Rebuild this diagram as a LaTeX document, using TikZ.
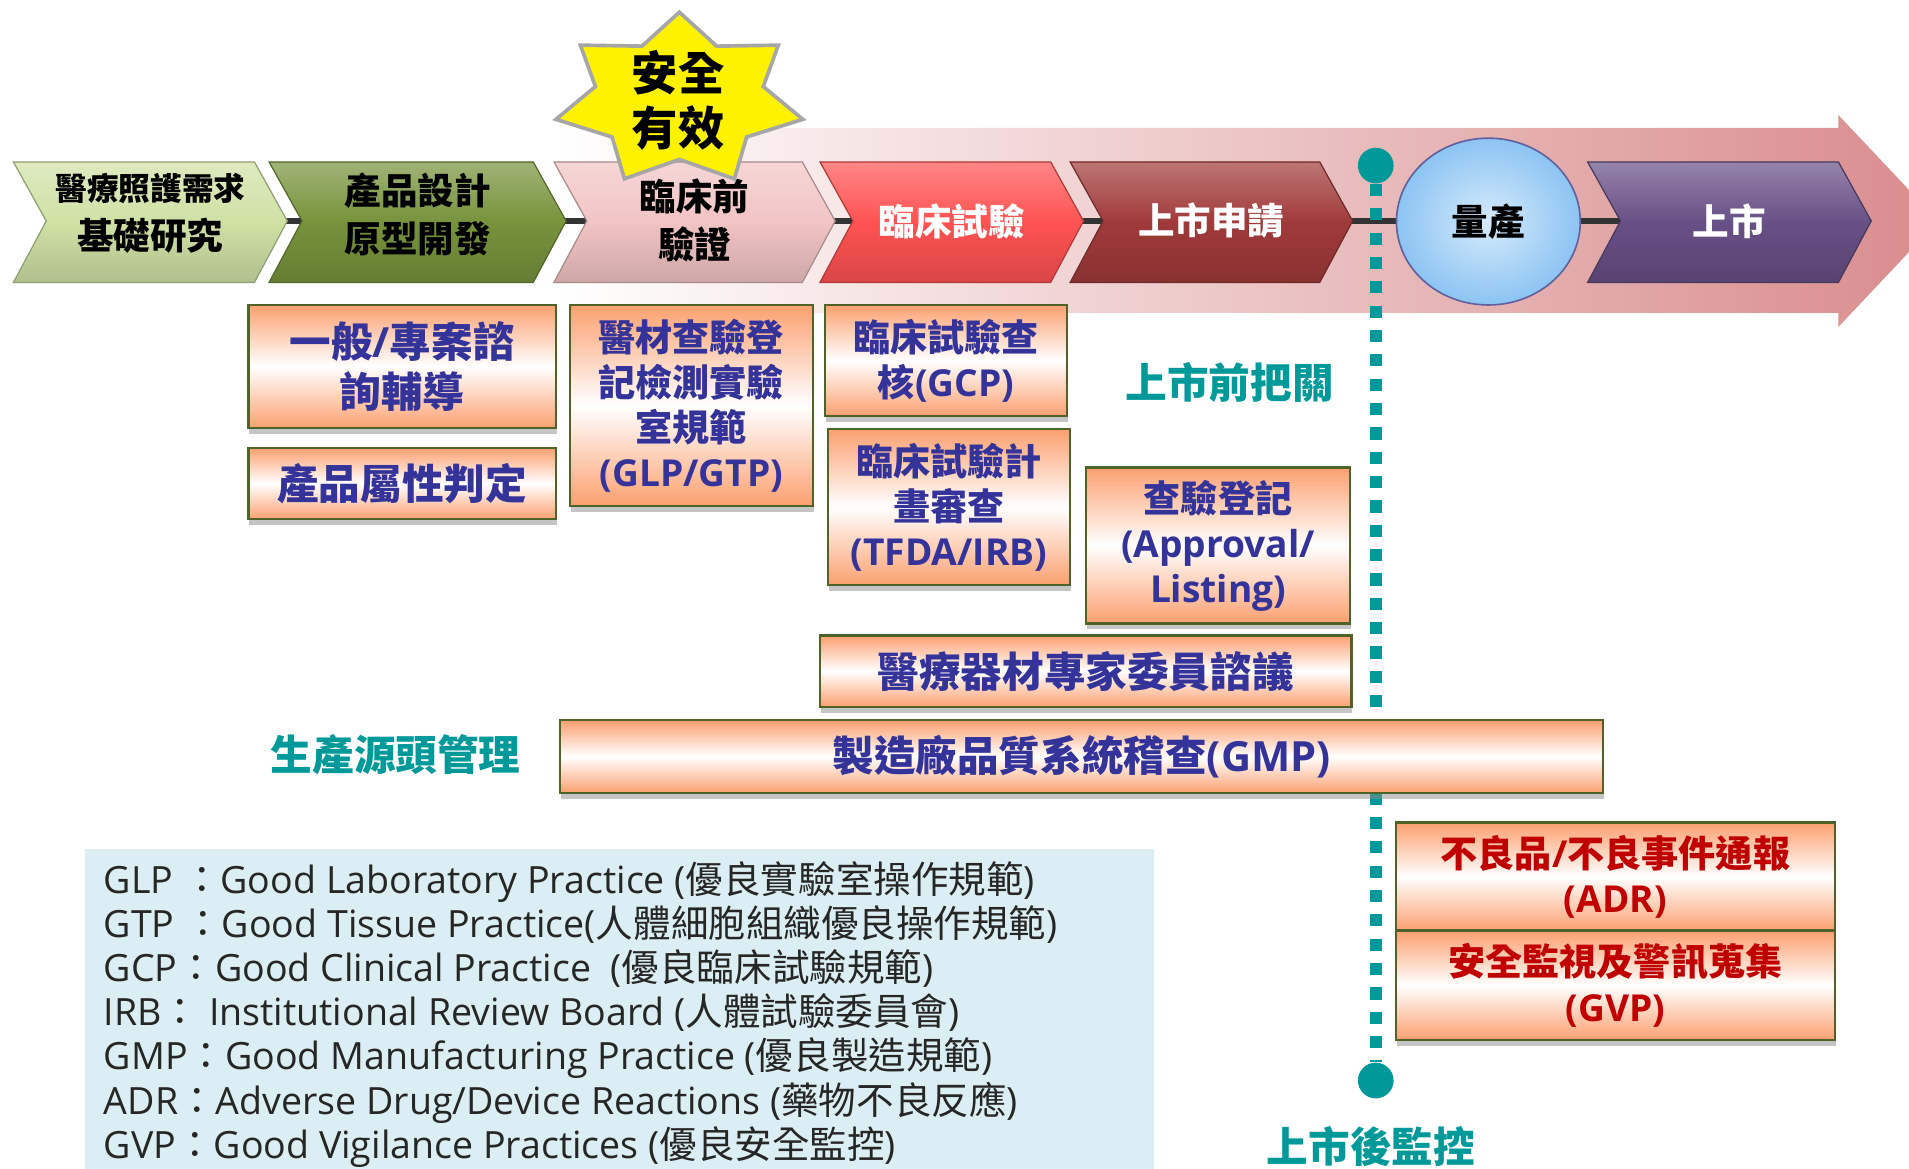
\documentclass[tikz,border=0pt]{standalone}
\usepackage{fontspec}
\setmainfont{Open Sans}
\newfontfamily\cjk{Noto Sans CJK TC}
\usetikzlibrary{shapes.geometric,shadows}
\newcommand\zh[1]{{\cjk #1}}
\definecolor{bgred}{RGB}{217,140,140}
\definecolor{chevA}{RGB}{208,225,165}
\definecolor{chevB}{RGB}{119,147,60}
\definecolor{chevC}{RGB}{242,196,196}
\definecolor{chevD}{RGB}{255,82,82}
\definecolor{chevE}{RGB}{160,58,58}
\definecolor{chevF}{RGB}{103,80,134}
\definecolor{boxorange}{RGB}{252,160,112}
\definecolor{boxline}{RGB}{79,98,40}
\definecolor{navy}{RGB}{51,51,153}
\definecolor{alarmred}{RGB}{192,0,0}
\definecolor{markteal}{RGB}{0,153,153}
\definecolor{legendbg}{RGB}{218,238,243}
\newcommand\boxfont{\fontsize{18.3}{22.2}\selectfont\bfseries}
\newcommand\bigbox{\fontsize{20.5}{24.6}\selectfont\bfseries}

\begin{document}
\begin{tikzpicture}[x=0.6pt,y=-0.6pt,
    chev/.style={draw=#1!70!black, line width=0.6pt, top color=#1!70!white, bottom color=#1!85!black, middle color=#1},
    chevtext/.style={align=center, inner sep=0pt, font={\fontsize{18}{24}\selectfont\cjk\bfseries}},
    infobox/.style={draw=boxline, line width=1.2pt, top color=boxorange, bottom color=boxorange, middle color=white,
      drop shadow={shadow xshift=0.5pt, shadow yshift=-3pt, fill=black!45, opacity=0.5},
      text=navy, align=center, inner sep=0pt, font=\boxfont},
    teallabel/.style={text=markteal, inner sep=0pt, font={\fontsize{20.5}{24}\selectfont\cjk\bfseries}},
    tealdot/.style={circle, fill=markteal, inner sep=0pt, minimum size=17.6pt},
    legtext/.style={anchor=base west, inner sep=0pt, text=black!85, font={\fontsize{18.5}{22}\selectfont}}]
  \useasboundingbox (0,0) rectangle (1568,960);

  % background arrow
  \path[left color=white, right color=bgred] (455,105) -- (1510,105) -- (1510,94.5) -- (1592,181.5)
     -- (1510,268.5) -- (1510,257) -- (455,257) -- cycle;

  \coordinate (rowstart) at (38,181.5);
  \coordinate (rowend) at (1520,181.5);
  \draw[line width=3pt, black!80] (rowstart) -- (rowend);

  \node[tealdot] (topdot) at (1130,136) {};
  \node[tealdot] (botdot) at (1130,887.5) {};
  \draw[markteal, line width=6pt, dash pattern=on 6pt off 6pt] (topdot) -- (botdot);

  % stages
  \foreach \l/\r/\y/\col/\tcol/\name/\txt in {
      11/209/175/chevA/black/research/{{\fontsize{15.6}{19}\selectfont 醫療照護需求}\\基礎研究},
      221/438/176/chevB/black/design/{產品設計\\原型開發},
      455/659/181/chevC/black/preclin/{臨床前\\驗證},
      673.5/863/181.5/chevD/white/trial/{臨床試驗},
      879/1084/181.5/chevE/white/apply/{上市申請},
      1304/1510/181.5/chevF/white/launch/{上市}}
  {
    \path[chev=\col] (\l,133) -- (\r,133) -- (\r+27,181.5) -- (\r,232) -- (\l,232) -- (\l+27,181.5) -- cycle;
    \node[chevtext, text=\tcol] (\name) at ({(\l+\r+27)/2},\y) {\txt};
  }

  \node[ellipse, draw=gray!75!blue, line width=0.8pt, inner color={rgb,255:red,214;green,235;blue,252},
        outer color={rgb,255:red,140;green,196;blue,242}, minimum width=90.6pt, minimum height=82.2pt,
        chevtext] (massprod) at (1222.5,182) {量產};

  % star
  \begin{scope}[shift={(558,82)}, x=62.4pt, y=43.2pt]
    \filldraw[fill=yellow, draw=gray!70, line width=1.8pt, line join=miter]
      (90:1) \foreach \k in {1,...,13} { -- ({90+\k*360/14}:{mod(\k,2)==0 ? 1 : 0.68}) } -- cycle;
  \end{scope}
  \node[align=center, inner sep=0pt, font={\fontsize{22.8}{27}\selectfont\cjk\bfseries}] (safety) at (557,82.5) {安全\\有效};

  % boxes
  \node[infobox, minimum width=151.5pt, minimum height=60.6pt, font=\bigbox] (consult) at (330.2,301)
      {\zh{一般}/\zh{專案諮}\\\zh{詢輔導}};
  \node[infobox, minimum width=151.5pt, minimum height=35.1pt, font=\bigbox] (attr) at (330.2,397.2) {\zh{產品屬性判定}};
  \node[infobox, minimum width=119.7pt, minimum height=99pt] (glp) at (567.8,333)
      {\zh{醫材查驗登}\\\zh{記檢測實驗}\\\zh{室規範}\\(GLP/GTP)};
  \node[infobox, minimum width=119.4pt, minimum height=54.7pt] (gcp) at (777,296) {\zh{臨床試驗查}\\\zh{核}(GCP)};
  \node[infobox, minimum width=119.4pt, minimum height=76.8pt] (irb) at (779.5,416.5)
      {\zh{臨床試驗計}\\\zh{畫審查}\\(TFDA/IRB)};
  \node[infobox, minimum width=130.2pt, minimum height=76.8pt] (listing) at (1000.5,448)
      {\zh{查驗登記}\\(Approval/\\Listing)};
  \node[infobox, minimum width=261.9pt, minimum height=35.2pt, font=\bigbox] (expert) at (891.8,551.2)
      {\zh{醫療器材專家委員諮議}};
  \node[infobox, minimum width=514.1pt, minimum height=35.8pt, font=\bigbox] (gmp) at (888.4,621.4)
      {\zh{製造廠品質系統稽查}(GMP)};
  \node[infobox, text=alarmred, minimum width=216.2pt, minimum height=53.2pt] (adr) at (1326.8,720)
      {\zh{不良品}/\zh{不良事件通報}\\(ADR)};
  \node[infobox, text=alarmred, minimum width=216.2pt, minimum height=53.9pt] (gvp) at (1326.8,809.3)
      {\zh{安全監視及警訊蒐集}\\(GVP)};

  \node[teallabel] (premarket) at (1010,314) {上市前把關};
  \node[teallabel] (source) at (325,620) {生產源頭管理};
  \node[teallabel] (postmarket) at (1126,942) {上市後監控};

  % legend
  \fill[legendbg] (70,697) rectangle (948,960);
  \foreach \t [count=\i] in {
      GLP\ \zh{：}Good Laboratory Practice (\zh{優良實驗室操作規範}),
      GTP\ \zh{：}Good Tissue Practice(\zh{人體細胞組織優良操作規範}),
      GCP\zh{：}Good Clinical Practice\ \ (\zh{優良臨床試驗規範}),
      IRB\zh{：} Institutional Review Board (\zh{人體試驗委員會}),
      GMP\zh{：}Good Manufacturing Practice (\zh{優良製造規範}),
      ADR\zh{：}Adverse Drug/Device Reactions (\zh{藥物不良反應}),
      GVP\zh{：}Good Vigilance Practices (\zh{優良安全監控})}
    \node[legtext] (leg\i) at (85,{734+(\i-1)*36.2}) {\t};
\end{tikzpicture}
\end{document}
